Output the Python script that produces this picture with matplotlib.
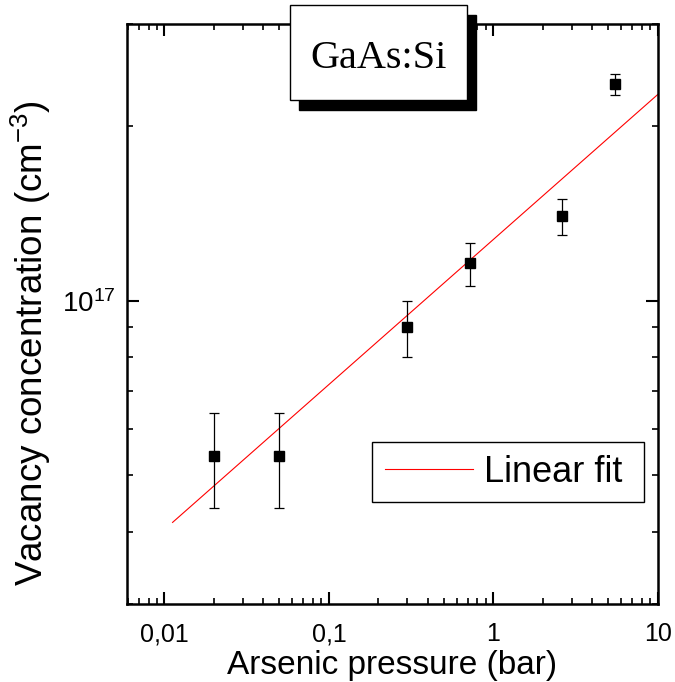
import numpy as np
import matplotlib
matplotlib.use("Agg")
import matplotlib.pyplot as plt
from matplotlib.ticker import LogLocator, FuncFormatter, NullFormatter
from matplotlib.patches import Rectangle

plt.rcParams["font.family"] = ["Liberation Sans", "DejaVu Sans"]
plt.rcParams["mathtext.default"] = "regular"

# Measured vacancy concentrations vs. arsenic pressure
pressure = [0.02, 0.05, 0.3, 0.72, 2.6, 5.5]            # bar
vacancy = [5.4e16, 5.4e16, 9.0e16, 1.16e17, 1.40e17, 2.36e17]  # cm^-3
vacancy_err = [1.0e16, 1.0e16, 1.0e16, 1.0e16, 1.0e16, 1.0e16]

# Power-law (linear in log-log) fit: C = A * p^b
fit_prefactor = 1.275e17
fit_slope = 0.25
fit_range = [0.0112, 10.0]

x_ticklabels = {0.01: "0,01", 0.1: "0,1", 1: "1", 10: "10"}

fig = plt.figure(figsize=(6.75, 6.82), dpi=100)
W, H = 675, 682
ax = fig.add_axes([127 / W, 78 / H, (657.7 - 127) / W, (604 - 24) / H])

ax.set_xscale("log")
ax.set_yscale("log")
ax.set_xlim(10 ** -2.228, 10)
ax.set_ylim(3e16, 3e17)

fit_x = np.array(fit_range)
ax.plot(fit_x, fit_prefactor * fit_x ** fit_slope, color="#ff0000", lw=0.8,
        label="Linear fit", zorder=2)
ax.errorbar(pressure, vacancy, yerr=vacancy_err, fmt="s", color="black",
            ms=7.5, capsize=3.6, elinewidth=0.9, capthick=0.9, zorder=3)

for axis in (ax.xaxis, ax.yaxis):
    axis.set_major_locator(LogLocator(base=10, numticks=12))
    axis.set_minor_locator(LogLocator(base=10, subs=np.arange(2, 10), numticks=12))
    axis.set_minor_formatter(NullFormatter())

ax.xaxis.set_major_formatter(FuncFormatter(
    lambda v, p: x_ticklabels.get(round(v, 6), f"{v:g}".replace(".", ","))))
ax.yaxis.set_major_formatter(FuncFormatter(
    lambda v, p: r"$10^{%d}$" % round(np.log10(v))))

ax.tick_params(which="both", direction="in", top=True, right=True)
ax.tick_params(which="major", length=8.5, width=1.5)
ax.tick_params(axis="x", which="major", pad=13, labelsize=18)
ax.tick_params(axis="y", which="major", pad=8, labelsize=20)
ax.tick_params(which="minor", length=4.5, width=1.2)
for s in ax.spines.values():
    s.set_linewidth(1.8)

ax.set_xlabel("Arsenic pressure (bar)", fontsize=24, labelpad=3)
ax.set_ylabel(r"Vacancy concentration (cm$^{-3}$)", fontsize=26.5)
ax.yaxis.set_label_coords(-0.139, 0.45)

leg = ax.legend(loc="upper left", bbox_to_anchor=(0.4617, 0.176, 0.5123, 0.103),
                mode="expand", fontsize=26, frameon=True, fancybox=False,
                edgecolor="black", framealpha=1, borderpad=0.35,
                handlelength=2.45, handletextpad=0.3, borderaxespad=0)
leg.get_frame().set_linewidth(1.0)

# Title box with a drop shadow, overlapping the top frame
bx0, by0, bw, bh = 290, 5.4, 177, 95
sh = 9
fig.add_artist(Rectangle(((bx0 + sh) / W, 1 - (by0 + bh + sh + 1) / H), bw / W, bh / H,
                         transform=fig.transFigure, facecolor="black",
                         edgecolor="black", zorder=5))
fig.add_artist(Rectangle((bx0 / W, 1 - (by0 + bh) / H), bw / W, bh / H,
                         transform=fig.transFigure, facecolor="white",
                         edgecolor="black", lw=1.0, zorder=6))
fig.text((bx0 + bw / 2) / W, 1 - 68 / H, "GaAs:Si", family="Liberation Serif",
         fontsize=29, ha="center", va="baseline", zorder=7)

fig.savefig("out.png", dpi=100)
